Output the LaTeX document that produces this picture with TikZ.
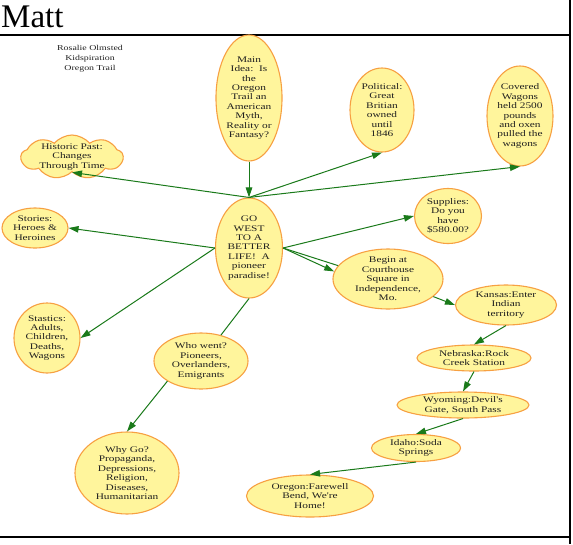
\documentclass[tikz,border=0pt]{standalone}
\usepackage{fontspec}
\setmainfont{Liberation Serif}
\newfontfamily\bubfont[FakeStretch=1.32]{Liberation Serif}
\usetikzlibrary{shapes.geometric,shapes.symbols,arrows.meta}
\definecolor{bubfill}{HTML}{FFF59C}
\definecolor{bubline}{HTML}{F7A042}
\definecolor{linkgreen}{HTML}{1A7A1A}
\definecolor{inkgray}{HTML}{202020}
\tikzset{
  txt/.style={font=\bubfont\fontsize{8.6}{9.4}\selectfont, align=center, text=inkgray, inner sep=0pt},
  bub/.style 2 args={ellipse, draw=bubline, fill=bubfill, line width=1.1pt,
    minimum width=#1pt, minimum height=#2pt, inner sep=0pt},
  link/.style={draw=linkgreen, line width=1pt},
  arr/.style={link, -{Triangle[length=10pt,width=6.5pt]}},
  frame/.style={line width=2.2pt, draw=black}
}
\begin{document}
\begin{tikzpicture}[x=1pt,y=-1pt]
\useasboundingbox (0,0) rectangle (573,544);
\fill[white] (0,0) rectangle (573,544);

% page frame
\draw[frame] (0,35) -- (570,35);
\draw[frame] (570,0) -- (570,544);
\draw[frame, line width=2.6pt] (0,537) -- (570,537);

% heading
\node[anchor=base west, font=\fontsize{33}{33}\selectfont, inner sep=0pt] (title) at (1,27) {Matt};
\node[txt, font=\bubfont\fontsize{7.5}{10}\selectfont] (credit) at (90,59) {Rosalie Olmsted\\Kidspiration\\Oregon Trail};

% bubbles
\node[bub={66}{126}, label={[txt]center:{Main\\Idea:\ \ Is\\the\\Oregon\\Trail an\\American\\Myth,\\Reality or\\Fantasy?}}] (main) at (249,98) {};
\node[bub={64}{84}, label={[txt]center:{Political:\\Great\\Britian\\owned\\until\\1846}}] (pol) at (382,110) {};
\node[bub={66}{100}, label={[txt]center:{Covered\\Wagons\\held 2500\\pounds\\and oxen\\pulled the\\wagons}}] (wag) at (520,116) {};
\node[cloud, cloud puffs=9, cloud puff arc=100, aspect=2.4, draw=bubline, fill=bubfill,
  line width=1.1pt, minimum width=102pt, minimum height=44pt, inner sep=0pt,
  label={[txt]center:{Historic Past:\\Changes\\Through Time}}] (hist) at (72,157) {};
\node[bub={66}{40}, label={[txt]center:{Stories:\\Heroes \&\\Heroines}}] (sto) at (35,228) {};
\node[bub={67}{100}, label={[txt]center:{GO\\WEST\\TO A\\BETTER\\LIFE!\ \ A\\pioneer\\paradise!}}] (go) at (249,248) {};
\node[bub={67}{55}, label={[txt]center:{Supplies:\\Do you\\have\\\$580.00?}}] (sup) at (448,216) {};
\node[bub={110}{60}, label={[txt]center:{Begin at\\Courthouse\\Square in\\Independence,\\Mo.}}] (beg) at (388,279) {};
\node[bub={66}{70}, label={[txt]center:{Stastics:\\Adults,\\Children,\\Deaths,\\Wagons}}] (sta) at (47,338) {};
\node[bub={94}{56}, label={[txt]center:{Who went?\\Pioneers,\\Overlanders,\\Emigrants}}] (who) at (201,361) {};
\node[bub={104}{82}, label={[txt]center:{Why Go?\\Propaganda,\\Depressions,\\Religion,\\Diseases,\\Humanitarian}}] (why) at (127,473) {};
\node[bub={101}{40}, label={[txt]center:{Kansas:Enter\\Indian\\territory}}] (kan) at (506,305) {};
\node[bub={114}{26}, label={[txt]center:{Nebraska:Rock\\Creek Station}}] (neb) at (474,358) {};
\node[bub={132}{26}, label={[txt]center:{Wyoming:Devil's\\Gate, South Pass}}] (wyo) at (463,405) {};
\node[bub={89}{27}, label={[txt]center:{Idaho:Soda\\Springs}}] (ida) at (416,448) {};
\node[bub={127}{42}, label={[txt]center:{Oregon:Farewell\\Bend, We're\\Home!}}] (ore) at (310,496) {};

% connectors
\draw[arr] (main.south) -- (go.north);
\draw[arr] (go.north) -- (hist.south);
\draw[arr] (go.north) -- (pol.south);
\draw[arr] (go.north) -- (wag.south);
\draw[arr] (go.west) -- (sto.east);
\draw[arr] (go.west) -- (sta.east);
\draw[link] (go.south) -- (who);
\draw[arr] (who.south west) -- (why.north);
\draw[arr] (go.east) -- (sup.west);
\draw[link] (go.east) -- (beg.165);
\draw[arr] (go.east) -- (beg.172);
\draw[arr] (beg) -- (kan.west);
\draw[arr] (kan.south) -- (neb.north);
\draw[arr] (neb.south) -- (wyo.north);
\draw[arr] (wyo.south) -- (ida.north);
\draw[arr] (ida.south) -- (ore.north);
\end{tikzpicture}
\end{document}
